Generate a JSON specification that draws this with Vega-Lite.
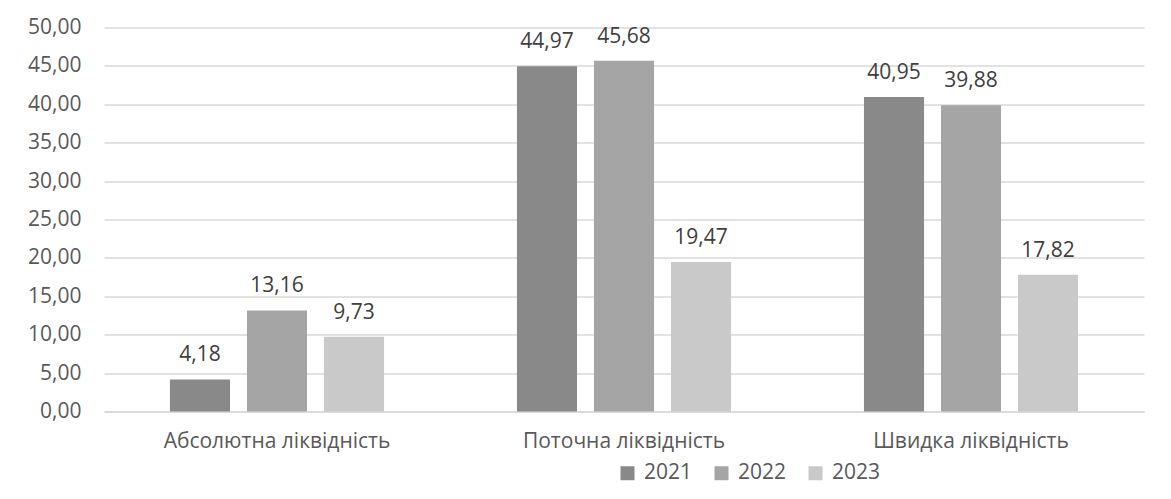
{
  "$schema": "https://vega.github.io/schema/vega-lite/v6.json",
  "width": 1040,
  "height": 384,
  "autosize": {"type": "none"},
  "padding": {"left": 104, "top": 27.5, "right": 27, "bottom": 87.5},
  "background": "white",
  "config": {
    "locale": {"number": {"decimal": ",", "thousands": " ", "grouping": [3], "currency": ["", ""]}},
    "view": {"stroke": null},
    "font": "Open Sans",
    "text": {"font": "Open Sans"}
  },
  "data": {
    "values": [
      {"category": "Абсолютна ліквідність", "year": "2021", "value": 4.18},
      {"category": "Абсолютна ліквідність", "year": "2022", "value": 13.16},
      {"category": "Абсолютна ліквідність", "year": "2023", "value": 9.73},
      {"category": "Поточна ліквідність", "year": "2021", "value": 44.97},
      {"category": "Поточна ліквідність", "year": "2022", "value": 45.68},
      {"category": "Поточна ліквідність", "year": "2023", "value": 19.47},
      {"category": "Швидка ліквідність", "year": "2021", "value": 40.95},
      {"category": "Швидка ліквідність", "year": "2022", "value": 39.88},
      {"category": "Швидка ліквідність", "year": "2023", "value": 17.82}
    ]
  },
  "encoding": {
    "x": {
      "field": "category",
      "type": "nominal",
      "sort": null,
      "scale": {"paddingInner": 0.383, "paddingOuter": 0.19},
      "axis": {
        "title": null,
        "labelAngle": 0,
        "labelLimit": 0,
        "labelFont": "Open Sans",
        "labelFontSize": 21,
        "labelColor": "#595959",
        "labelPadding": 19,
        "ticks": false,
        "domainColor": "#d9d9d9",
        "domainWidth": 1.5
      }
    },
    "xOffset": {
      "field": "year",
      "type": "nominal",
      "scale": {"paddingInner": 0.22, "paddingOuter": 0}
    },
    "y": {
      "field": "value",
      "type": "quantitative",
      "scale": {"domain": [0, 50], "nice": false},
      "axis": {
        "title": null,
        "values": [0, 5, 10, 15, 20, 25, 30, 35, 40, 45, 50],
        "format": ".2f",
        "labelFont": "Open Sans",
        "labelFontSize": 21,
        "labelColor": "#595959",
        "labelPadding": 23,
        "ticks": false,
        "domain": false,
        "grid": true,
        "gridColor": "#d9d9d9",
        "gridWidth": 1.5
      }
    }
  },
  "layer": [
    {
      "mark": {"type": "bar"},
      "encoding": {
        "color": {
          "field": "year",
          "type": "nominal",
          "scale": {"domain": ["2021", "2022", "2023"], "range": ["#898989", "#a5a5a5", "#c9c9c9"]},
          "legend": {
            "title": null,
            "orient": "none",
            "direction": "horizontal",
            "legendX": 513,
            "legendY": 435,
            "symbolType": "square",
            "symbolSize": 196,
            "symbolStrokeWidth": 0,
            "labelFont": "Open Sans",
            "labelFontSize": 21,
            "labelColor": "#595959",
            "labelOffset": 6,
            "columnPadding": 18,
            "padding": 0
          }
        }
      }
    },
    {
      "mark": {"type": "text", "baseline": "alphabetic", "dy": -18, "fontSize": 21, "color": "#404040", "font": "Open Sans"},
      "encoding": {
        "text": {"field": "value", "type": "quantitative", "format": ".2f"}
      }
    }
  ]
}
